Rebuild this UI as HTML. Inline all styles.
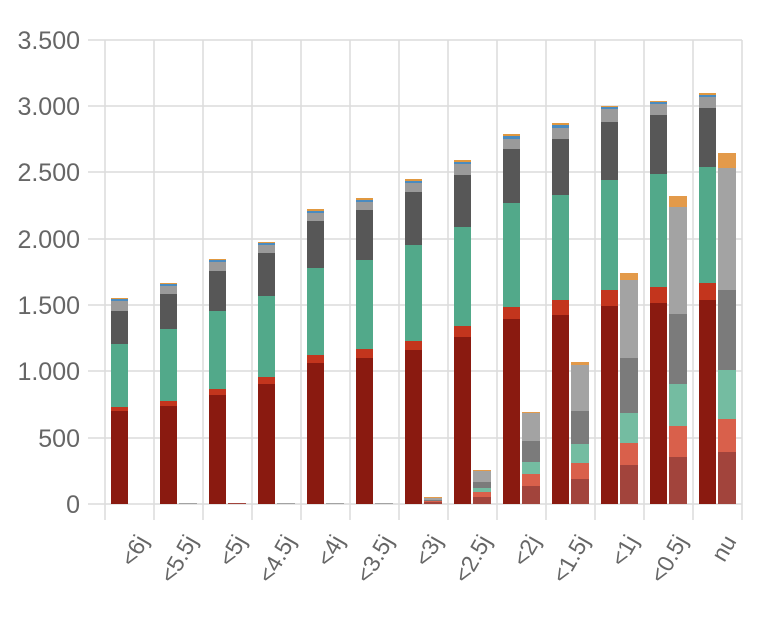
<!DOCTYPE html>
<html><head><meta charset="utf-8"><style>
html,body{margin:0;padding:0;background:#fff;}
svg{display:block;font-family:"Liberation Sans",sans-serif;}
</style></head><body>
<svg id="c" width="768" height="623" xmlns="http://www.w3.org/2000/svg">
<g stroke="#dcdcdc" stroke-width="1.5" id="grid">
<line x1="88" y1="40" x2="742" y2="40"/>
<line x1="88" y1="106" x2="742" y2="106"/>
<line x1="88" y1="172" x2="742" y2="172"/>
<line x1="88" y1="239" x2="742" y2="239"/>
<line x1="88" y1="305" x2="742" y2="305"/>
<line x1="88" y1="371" x2="742" y2="371"/>
<line x1="88" y1="438" x2="742" y2="438"/>
<line x1="88" y1="504" x2="742" y2="504"/>
</g>
<g fill="#666" font-size="25" text-anchor="end">
<text x="80" y="49">3.500</text>
<text x="80" y="115">3.000</text>
<text x="80" y="181">2.500</text>
<text x="80" y="248">2.000</text>
<text x="80" y="314">1.500</text>
<text x="80" y="380">1.000</text>
<text x="80" y="447">500</text>
<text x="80" y="513">0</text>
</g>
<g id="bars"></g>
<g fill="#666" font-size="23" text-anchor="end" id="xl">
<text transform="translate(149,541) rotate(-60)">&lt;6j</text>
<text transform="translate(198,541) rotate(-60)">&lt;5.5j</text>
<text transform="translate(247,541) rotate(-60)">&lt;5j</text>
<text transform="translate(296,541) rotate(-60)">&lt;4.5j</text>
<text transform="translate(345,541) rotate(-60)">&lt;4j</text>
<text transform="translate(394,541) rotate(-60)">&lt;3.5j</text>
<text transform="translate(443,541) rotate(-60)">&lt;3j</text>
<text transform="translate(492,541) rotate(-60)">&lt;2.5j</text>
<text transform="translate(541,541) rotate(-60)">&lt;2j</text>
<text transform="translate(590,541) rotate(-60)">&lt;1.5j</text>
<text transform="translate(639,541) rotate(-60)">&lt;1j</text>
<text transform="translate(688,541) rotate(-60)">&lt;0.5j</text>
<text transform="translate(737,541) rotate(-60)">nu</text>
</g>
</svg>
<script>
var g=document.getElementById('grid'),ns="http://www.w3.org/2000/svg";
for(var k=0;k<14;k++){var l=document.createElementNS(ns,'line');var x=105+49*k;l.setAttribute('x1',x);l.setAttribute('x2',x);l.setAttribute('y1',40);l.setAttribute('y2',520);g.appendChild(l);}
var LC=['#8a1a10','#c3351d','#52a98a','#575757','#9a9a9a','#4a8bc0','#e09840'];
var RC=['#a2443c','#d9604b','#74bca1','#7b7b7b','#a3a3a3','#e39a4a'];
var L=[[411,407,344,311,301,299,298],[406,401,329,294,286,284,283],[395,389,311,271,262,260,259],[384,377,296,253,245,243,242],[363,355,268,221,213,211,209],[358,349,260,210,202,200,198],[350,341,245,192,183,181,179],[337,326,227,175,164,162,160],[319,307,203,149,139,136,134],[315,300,195,139,128,125,123],[306,290,180,122,109,107,106],[303,287,174,115,104,102,101],[300,283,167,108,97,95,93]];
var R=[[504,504,504,504,504,504],[504,504,504,504,503,503],[503,503,503,503,503,503],[504,504,504,504,503,503],[504,504,504,504,503,503],[504,504,504,504,503,503],[502,501,501,500,498,497],[497,492,488,482,471,470],[486,474,462,441,413,412],[479,463,444,411,365,362],[465,443,413,358,280,273],[457,426,384,314,207,196],[452,419,370,290,168,153]];
var b=document.getElementById('bars');
function r(x,y,w,h,c){if(h<=0)return;var e=document.createElementNS(ns,'rect');e.setAttribute('x',x);e.setAttribute('y',y);e.setAttribute('width',w);e.setAttribute('height',h);e.setAttribute('fill',c);b.appendChild(e);}
for(var i=0;i<13;i++){var x0=105+49*i;var prev=504;
for(var j=0;j<7;j++){r(x0+6,L[i][j],17,prev-L[i][j],LC[j]);prev=L[i][j];}
prev=504;for(var j=0;j<6;j++){r(x0+25,R[i][j],18,prev-R[i][j],RC[j]);prev=R[i][j];}}
</script>
</body></html>
